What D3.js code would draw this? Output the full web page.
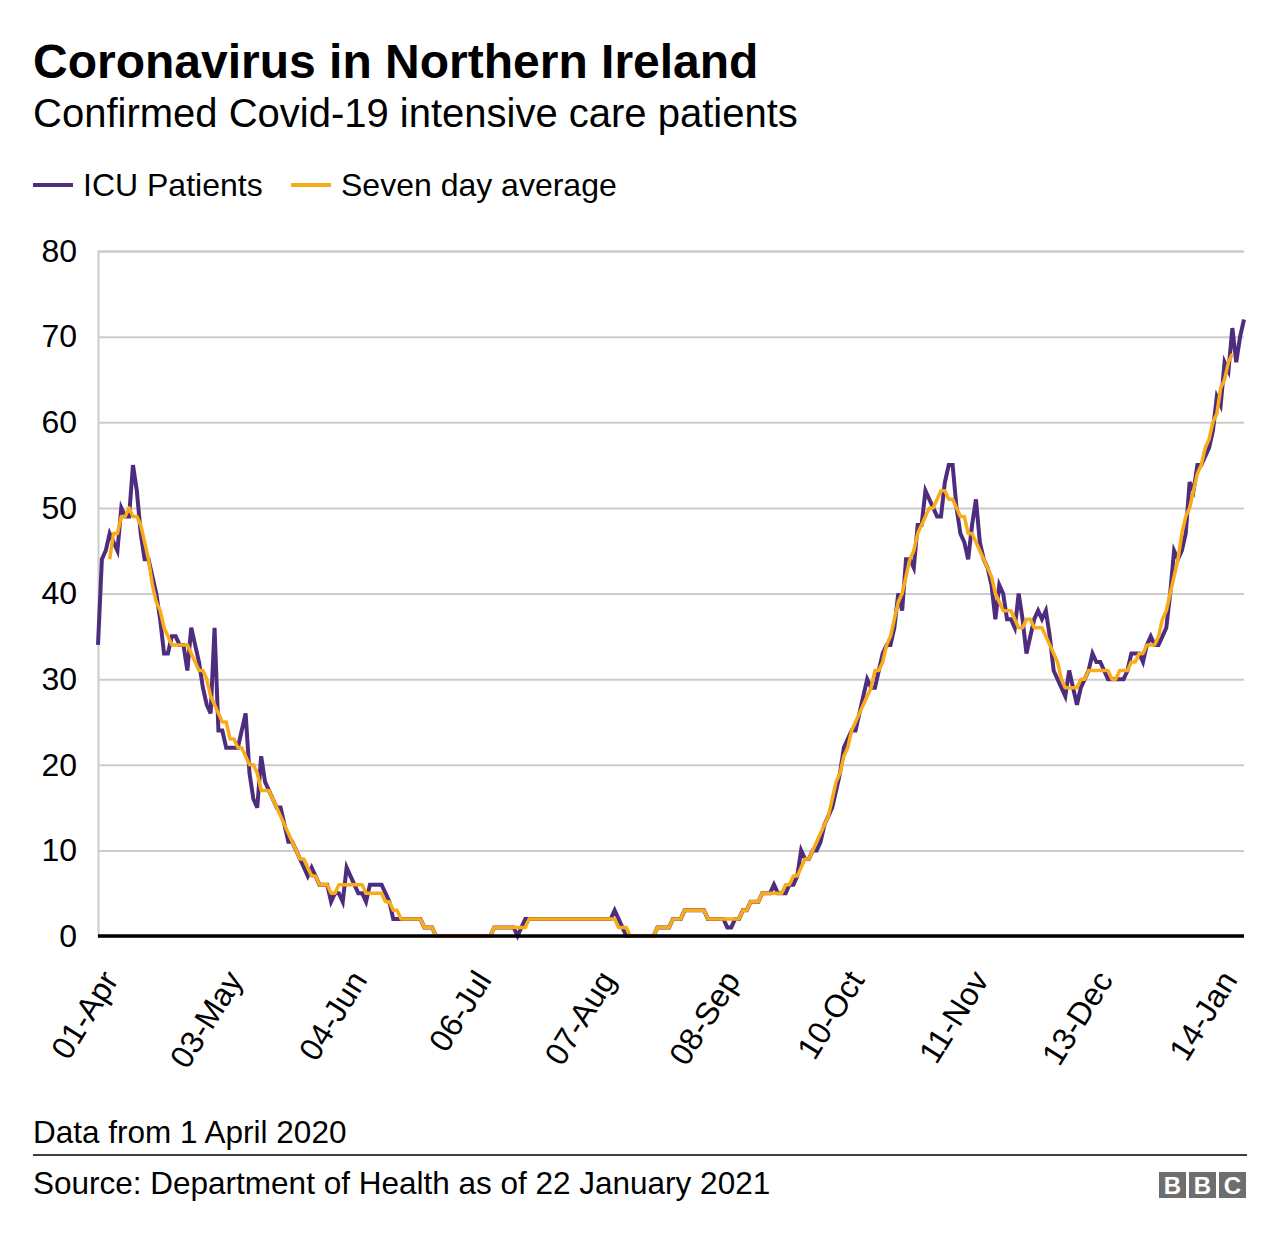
<!DOCTYPE html>
<html>
<head>
<meta charset="utf-8">
<script src="https://cdn.jsdelivr.net/npm/d3@7"></script>
<style>
  html, body { margin: 0; padding: 0; background: #fff; }
  svg text { font-family: "Liberation Sans", Arial, Helvetica, sans-serif; fill: #222; }
</style>
</head>
<body>
<svg id="chart" width="1280" height="1242"></svg>
<script>
// ---------------- DATA ----------------
const startDate = "2020-04-01";
// Daily confirmed Covid-19 ICU patients, one value per day from 1 April 2020
const icuPatients = [
  34,44,45,47,46,45,50,49,49,55,
  52,47,44,44,42,40,37,33,33,35,
  35,34,34,31,36,34,32,29,27,26,
  36,24,24,22,22,22,22,24,26,19,
  16,15,21,18,17,16,15,15,13,11,
  11,10,9,8,7,8,7,6,6,6,
  4,5,5,4,8,7,6,5,5,4,
  6,6,6,6,5,4,2,2,2,2,
  2,2,2,2,1,1,1,0,0,0,
  0,0,0,0,0,0,0,0,0,0,
  0,0,1,1,1,1,1,1,0,1,
  2,2,2,2,2,2,2,2,2,2,
  2,2,2,2,2,2,2,2,2,2,
  2,2,2,3,2,1,0,0,0,0,
  0,0,0,0,1,1,1,1,2,2,
  2,3,3,3,3,3,3,2,2,2,
  2,2,1,1,2,2,3,3,4,4,
  4,5,5,5,6,5,5,5,6,6,
  7,10,9,9,10,10,11,13,14,15,
  17,19,22,23,24,24,26,28,30,29,
  29,31,33,34,34,36,40,38,44,44,
  43,48,48,52,51,50,49,49,53,55,
  55,50,47,46,44,48,51,46,44,43,
  41,37,41,40,37,37,36,40,37,33,
  35,37,38,37,38,35,31,30,29,28,
  31,29,27,29,30,31,33,32,32,31,
  30,30,30,30,30,31,33,33,33,32,
  34,35,34,34,35,36,40,45,44,45,
  47,53,52,55,55,56,57,59,63,62,
  67,66,71,67,70,72
];
// Seven day (centred) average, read per day; null where not shown
const sevenDayAverage = [
  null,null,null,44,47,47,49,49,50,49,
  49,48,46,44,41,39,38,36,35,34,
  34,34,34,34,33,32,31,31,30,28,
  27,26,25,25,23,23,22,22,21,20,
  20,19,17,17,17,16,15,14,13,12,
  11,10,9,9,8,7,7,6,6,6,
  5,5,6,6,6,6,6,6,6,5,
  5,5,5,5,4,4,3,3,2,2,
  2,2,2,2,1,1,1,0,0,0,
  0,0,0,0,0,0,0,0,0,0,
  0,0,1,1,1,1,1,1,1,1,
  1,2,2,2,2,2,2,2,2,2,
  2,2,2,2,2,2,2,2,2,2,
  2,2,2,2,1,1,1,0,0,0,
  0,0,0,0,1,1,1,1,2,2,
  2,3,3,3,3,3,3,2,2,2,
  2,2,2,2,2,2,3,3,4,4,
  4,5,5,5,5,5,5,6,6,7,
  7,8,9,9,10,11,12,13,14,16,
  18,19,21,22,24,25,26,27,28,29,
  31,31,32,34,35,37,39,40,42,44,
  45,47,48,49,50,50,51,52,52,51,
  51,50,49,49,47,47,46,45,44,43,
  42,40,39,38,38,38,37,36,36,37,
  37,36,36,36,35,34,33,32,30,29,
  29,29,29,30,30,31,31,31,31,31,
  31,30,30,31,31,31,32,32,33,33,
  34,34,34,35,37,38,40,42,44,47,
  49,50,52,54,55,57,58,60,61,64,
  65,67,68,null,null,null
];
const xTickDates = ["2020-04-01","2020-05-03","2020-06-04","2020-07-06","2020-08-07","2020-09-08","2020-10-10","2020-11-11","2020-12-13","2021-01-14"];
const xTickLabels = ["01-Apr","03-May","04-Jun","06-Jul","07-Aug","08-Sep","10-Oct","11-Nov","13-Dec","14-Jan"];
const yTicks = [0,10,20,30,40,50,60,70,80];
const seriesNames = ["ICU Patients","Seven day average"];
const seriesColors = ["#4e2d7f","#faab18"];

// ---------------- CHART ----------------
const svg = d3.select("#chart");
const parse = d3.utcParse("%Y-%m-%d");
const day0 = parse(startDate);
const dates = icuPatients.map((_, i) => d3.utcDay.offset(day0, i));

const margin = {left: 98, right: 1244, top: 251, bottom: 936};
const x = d3.scaleUtc().domain([dates[0], dates[dates.length - 1]]).range([margin.left, margin.right]);
const y = d3.scaleLinear().domain([0, 80]).range([margin.bottom, margin.top]);

// Title & subtitle
svg.append("text").attr("x", 33).attr("y", 78)
  .style("font-size", "48px").style("font-weight", "bold").style("fill", "#000")
  .text("Coronavirus in Northern Ireland");
svg.append("text").attr("x", 33).attr("y", 127)
  .style("font-size", "40px").style("fill", "#000")
  .text("Confirmed Covid-19 intensive care patients");

// Legend
const legend = svg.append("g");
const legendX = [33, 291];
seriesNames.forEach((name, i) => {
  legend.append("line").attr("x1", legendX[i]).attr("x2", legendX[i] + 40)
    .attr("y1", 185).attr("y2", 185).attr("stroke", seriesColors[i]).attr("stroke-width", 4);
  legend.append("text").attr("x", legendX[i] + 50).attr("y", 196)
    .style("font-size", "32px").style("fill", "#000").text(name);
});

// Grid lines
const yAxis = d3.axisLeft(y).tickValues(yTicks).tickSize(-(margin.right - margin.left)).tickPadding(21);
const gy = svg.append("g").attr("transform", `translate(${margin.left},0)`).call(yAxis);
gy.select(".domain").attr("stroke", "#cccccc").attr("stroke-width", 2);
gy.selectAll(".tick line").attr("stroke", "#cccccc").attr("stroke-width", 2);
gy.selectAll(".tick text").style("font-size", "32px").style("fill", "#000")
  .style("font-family", "'Liberation Sans', Arial, sans-serif");

// X axis labels
const xAxis = d3.axisBottom(x).tickValues(xTickDates.map(parse)).tickSize(0)
  .tickFormat((d, i) => xTickLabels[i]);
const gx = svg.append("g").attr("transform", `translate(0,${margin.bottom})`).call(xAxis);
gx.select(".domain").remove();
gx.selectAll(".tick text")
  .style("font-size", "32px").style("fill", "#000")
  .style("font-family", "'Liberation Sans', Arial, sans-serif")
  .attr("text-anchor", "end")
  .attr("dy", 0).attr("y", 0)
  .attr("transform", "translate(21,44) rotate(-58)");

// Lines
const lineIcu = d3.line().x((d, i) => x(dates[i])).y(d => y(d));
const lineAvg = d3.line().defined(d => d !== null).x((d, i) => x(dates[i])).y(d => y(d));

svg.append("path").datum(icuPatients).attr("d", lineIcu)
  .attr("fill", "none").attr("stroke", seriesColors[0]).attr("stroke-width", 4)
  .attr("stroke-linejoin", "miter");
svg.append("path").datum(sevenDayAverage).attr("d", lineAvg)
  .attr("fill", "none").attr("stroke", seriesColors[1]).attr("stroke-width", 3.5)
  .attr("stroke-linejoin", "round");

// Baseline
svg.append("line").attr("x1", margin.left).attr("x2", margin.right)
  .attr("y1", y(0)).attr("y2", y(0)).attr("stroke", "#000").attr("stroke-width", 3.5);

// Footer
svg.append("text").attr("x", 33).attr("y", 1143)
  .style("font-size", "31.5px").style("fill", "#000").text("Data from 1 April 2020");
svg.append("line").attr("x1", 33).attr("x2", 1247).attr("y1", 1155).attr("y2", 1155)
  .attr("stroke", "#000").attr("stroke-width", 1.5);
svg.append("text").attr("x", 33).attr("y", 1194)
  .style("font-size", "31.5px").style("fill", "#000").text("Source: Department of Health as of 22 January 2021");

// BBC blocks
const bbc = svg.append("g");
["B","B","C"].forEach((l, i) => {
  const bx = 1159 + i * 30;
  bbc.append("rect").attr("x", bx).attr("y", 1172).attr("width", 27).attr("height", 26).attr("fill", "#6e6e6e");
  bbc.append("text").attr("x", bx + 13.5).attr("y", 1194).attr("text-anchor", "middle")
    .style("font-size", "24px").style("font-weight", "bold").style("fill", "#fff").text(l);
});
</script>
</body>
</html>
